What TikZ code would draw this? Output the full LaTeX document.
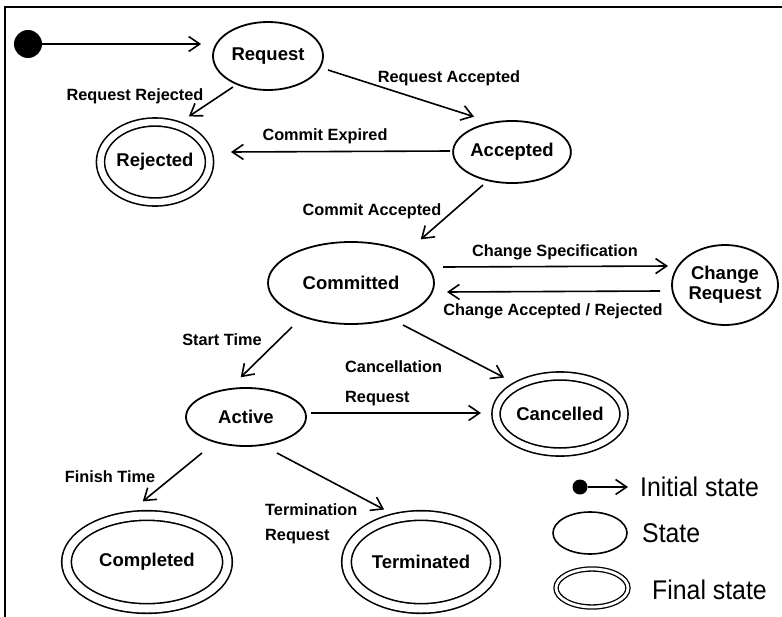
\documentclass[tikz,border=0pt]{standalone}
\usepackage{fontspec}
\setmainfont{Liberation Sans}
\newfontfamily\legendfont[FakeStretch=0.92]{Liberation Sans}
\usetikzlibrary{arrows.meta,shapes.geometric,calc}

\begin{document}
\begin{tikzpicture}[x=1pt,y=-1pt,
  state/.style={ellipse, draw, line width=1.8pt, inner sep=0pt,
    font=\bfseries\fontsize{18.5}{20}\selectfont, align=center},
  final/.style={ellipse, draw, double, double distance=6.5pt, line width=1.6pt,
    inner sep=0pt, font=\bfseries\fontsize{18.5}{20}\selectfont},
  tr/.style={line width=1.6pt, shorten >=1pt,
    -{Straight Barb[length=11pt,width=15pt]}},
  lbl/.style={font=\bfseries\fontsize{16.3}{20}\selectfont, inner sep=0pt,
    text height=11.7pt, text depth=0pt},
  legendtxt/.style={font=\legendfont\fontsize{27}{30}\selectfont, inner sep=0pt,
    text height=19pt, text depth=0pt},
  dot/.style={circle, fill, inner sep=0pt},
]
\useasboundingbox (0,0) rectangle (782,616);
\fill[white] (0,0) rectangle (782,616);

% outer frame (only the top and left edges fall inside the page)
\draw[line width=2pt] (5,620) -- (5,7) -- (786,7);

% states
\node[dot, minimum size=28pt] (init) at (28,44) {};
\node[state, minimum width=110pt, minimum height=68pt] (req) at (268,56) {Request};
\node[final, minimum width=108pt, minimum height=80pt] (rej) at (155,162) {Rejected};
\node[state, minimum width=108pt, minimum height=62pt] (acc) at (512,152) {Accepted};
\node[state, minimum width=166pt, minimum height=82pt] (com) at (351,283) {Committed};
\node[state, minimum width=106pt, minimum height=80pt] (chg) at (725,285) {Change\\Request};
\node[state, minimum width=120pt, minimum height=58pt] (act) at (246,417) {Active};
\node[final, minimum width=128pt, minimum height=76pt] (can) at (560,414) {Cancelled};
\node[final, double distance=8pt, minimum width=161pt, minimum height=93pt] (comp) at (147,562) {Completed};
\node[final, double distance=8pt, minimum width=149pt, minimum height=93pt] (term) at (421,562) {Terminated};

% transitions
\draw[tr, shorten >=11pt] (init.east) -- (init.east -| req.west);
\draw[tr] ($(req)+(-35,31)$) -- ($(rej)+(33,-45)$);
\draw[tr] ($(req)+(60,14)$) -- ($(acc)+(-37,-35)$);
\draw[tr] ($(acc)+(-62,-1)$) -- ($(rej)+(75,-10)$);
\draw[tr] ($(acc)+(-29,33)$) -- ($(com)+(69,-43)$);
\draw[tr] ($(com)+(92,-16)$) -- ($(chg)+(-56,-19)$);
\draw[tr] ($(chg)+(-65,6)$) -- ($(com)+(95,9)$);
\draw[tr] ($(com)+(-59,44)$) -- ($(act)+(-6,-39)$);
\draw[tr] ($(com)+(52,42)$) -- ($(can)+(-55,-36)$);
\draw[tr] ($(act)+(65,-4)$) -- ($(can)+(-78,-1)$);
\draw[tr] ($(act)+(-44,36)$) -- ($(comp)+(-5,-60)$);
\draw[tr] ($(act)+(31,36)$) -- ($(term)+(-36,-52)$);

% transition labels
\node[lbl] (lRR) at (135,95) {Request Rejected};
\node[lbl] (lRA) at (449,77) {Request Accepted};
\node[lbl] (lCE) at (325,135) {Commit Expired};
\node[lbl] (lCA) at (372,210) {Commit Accepted};
\node[lbl] (lCS) at (555,251) {Change Specification};
\node[lbl] (lCR) at (553,310) {Change Accepted / Rejected};
\node[lbl] (lST) at (222,340) {Start Time};
\node[lbl, anchor=west] (lCa1) at (345,367) {Cancellation};
\node[lbl, anchor=west] (lCa2) at (345,397) {Request};
\node[lbl] (lFT) at (110,477) {Finish Time};
\node[lbl, anchor=west] (lTR1) at (265,510) {Termination};
\node[lbl, anchor=west] (lTR2) at (265,535) {Request};

% legend
\node[dot, minimum size=15pt] (kinit) at (580,487) {};
\node[legendtxt, anchor=west] (kinittxt) at (640,487) {Initial state};
\draw[tr, shorten >=12pt] (kinit) -- (kinittxt.west);
\node[ellipse, draw, line width=1.6pt, minimum width=74pt, minimum height=42pt] (kstate) at (590,533) {};
\node[legendtxt, anchor=west] (kstatetxt) at (642,533) {State};
\node[ellipse, draw, double, double distance=2.8pt, line width=1.3pt,
  minimum width=72pt, minimum height=38pt, inner sep=0pt] (kfinal) at (592,588) {};
\node[legendtxt, anchor=west] (kfinaltxt) at (652,590) {Final state};
\end{tikzpicture}
\end{document}
